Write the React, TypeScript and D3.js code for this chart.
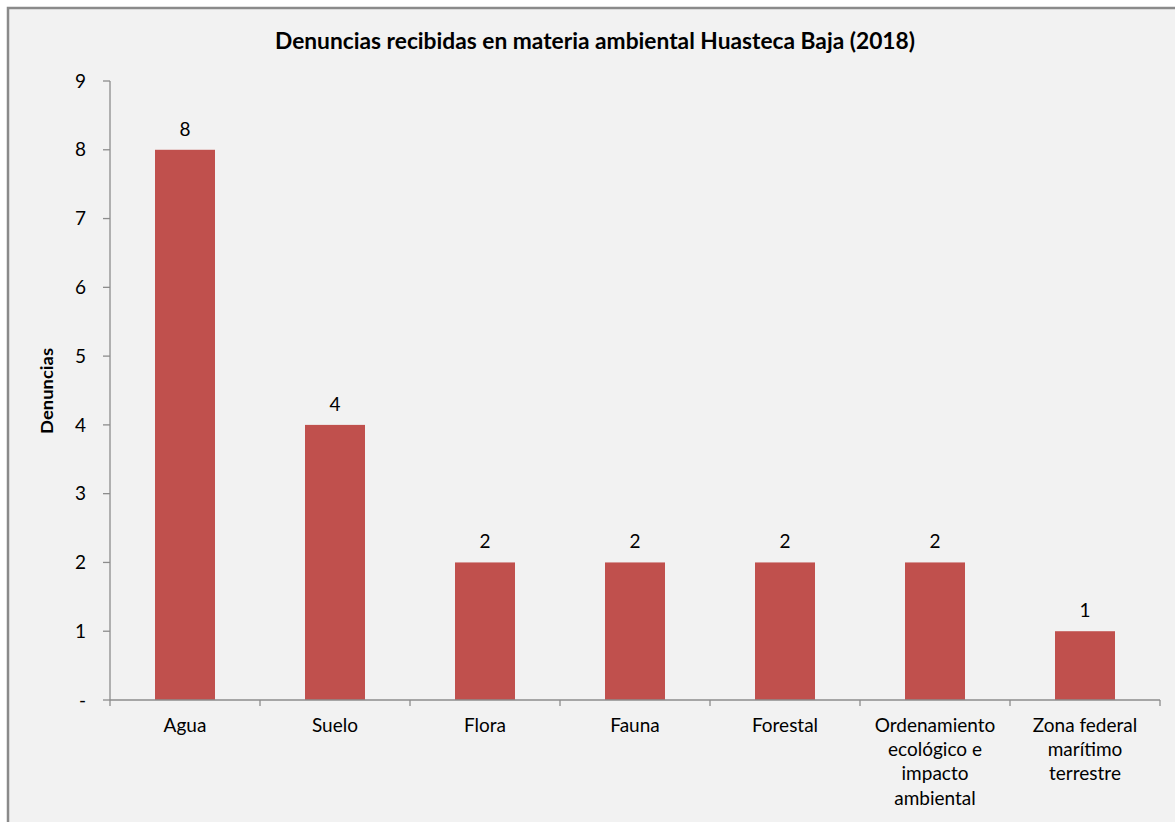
import React from "react";
import * as d3 from "d3";

const categories: string[][] = [
  ["Agua"],
  ["Suelo"],
  ["Flora"],
  ["Fauna"],
  ["Forestal"],
  ["Ordenamiento", "ecológico e", "impacto", "ambiental"],
  ["Zona federal", "marítimo", "terrestre"],
];
const values: number[] = [8, 4, 2, 2, 2, 2, 1];
const yTicks: number[] = [0, 1, 2, 3, 4, 5, 6, 7, 8, 9];
const title = "Denuncias recibidas en materia ambiental Huasteca Baja (2018)";
const yTitle = "Denuncias";

const W = 1175;
const H = 822;
const FONT = "Lato, 'Open Sans', sans-serif";

export default function App() {
  const left = 110;
  const right = 1160;
  const top = 81;
  const bottom = 700;
  const keys = categories.map((_, i) => String(i));
  const x = d3.scaleBand<string>().domain(keys).range([left, right]).paddingInner(0.6).paddingOuter(0.3);
  const y = d3.scaleLinear().domain([0, 9]).range([bottom, top]);
  const step = (right - left) / categories.length;
  const axisColor = "#8c8c8c";

  return (
    <svg width={W} height={H} style={{ position: "absolute", left: 0, top: 0 }}>
      <rect x={0} y={0} width={W} height={H} fill="#ffffff" />
      <rect x={8} y={8} width={W + 20} height={H + 20} fill="#f2f2f2" stroke="#8a8a8a" strokeWidth={2.5} />
      <text x={595} y={48.5} textAnchor="middle" fontFamily={FONT} fontWeight="bold" fontSize={22.8} fill="#000" textLength={640} lengthAdjust="spacingAndGlyphs">
        {title}
      </text>
      <text
        transform={`translate(53, ${391}) rotate(-90)`}
        textAnchor="middle"
        fontFamily={FONT}
        fontWeight="bold"
        fontSize={17}
        fill="#000"
        textLength={86}
        lengthAdjust="spacingAndGlyphs"
      >
        {yTitle}
      </text>
      {/* y axis */}
      <line x1={left} x2={left} y1={top} y2={bottom} stroke={axisColor} strokeWidth={1.3} />
      {yTicks.map((t) => (
        <g key={t}>
          <line x1={left - 7} x2={left} y1={y(t)} y2={y(t)} stroke={axisColor} strokeWidth={1.3} />
          <text x={86} y={y(t)} dy="0.35em" textAnchor="end" fontFamily={FONT} fontSize={19} fill="#000">
            {t === 0 ? "-" : String(t)}
          </text>
        </g>
      ))}
      {/* bars */}
      {values.map((v, i) => (
        <g key={i}>
          <rect x={x(keys[i])} y={y(v)} width={x.bandwidth()} height={bottom - y(v)} fill="#c0504d" />
          <text
            x={(x(keys[i]) as number) + x.bandwidth() / 2}
            y={y(v) - 14}
            textAnchor="middle"
            fontFamily={FONT}
            fontSize={19}
            fill="#000"
          >
            {String(v)}
          </text>
        </g>
      ))}
      {/* x axis */}
      <line x1={left} x2={right} y1={bottom} y2={bottom} stroke={axisColor} strokeWidth={1.3} />
      {d3.range(categories.length + 1).map((i) => (
        <line key={i} x1={left + i * step} x2={left + i * step} y1={bottom} y2={bottom + 6} stroke={axisColor} strokeWidth={1.3} />
      ))}
      {categories.map((lines, i) => (
        <text
          key={i}
          textAnchor="middle"
          fontFamily={FONT}
          fontSize={19}
          fill="#000"
        >
          {lines.map((l, j) => (
            <tspan key={j} x={(x(keys[i]) as number) + x.bandwidth() / 2} y={732 + j * 24.2}>
              {l}
            </tspan>
          ))}
        </text>
      ))}
    </svg>
  );
}
